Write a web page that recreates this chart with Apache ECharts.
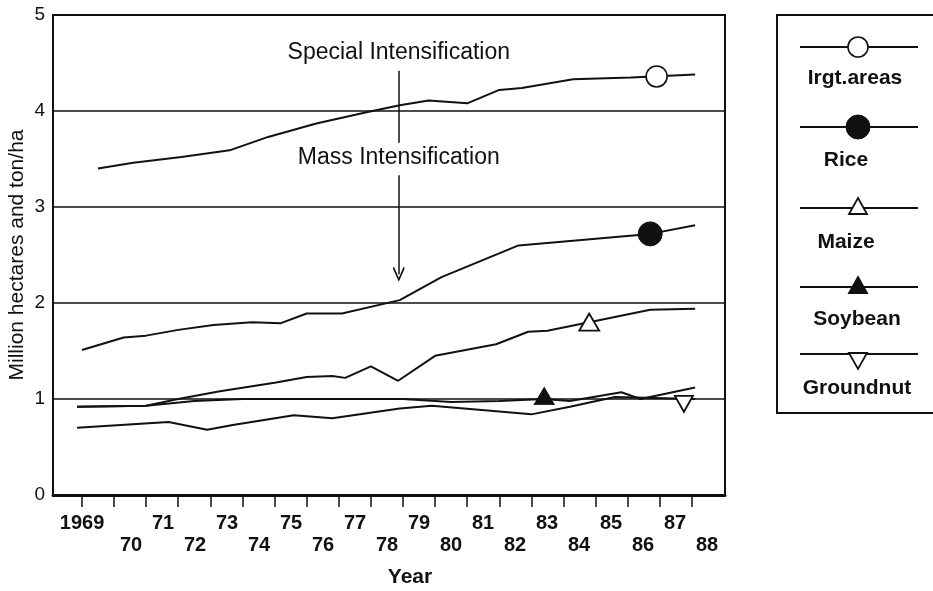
<!DOCTYPE html>
<html>
<head>
<meta charset="utf-8">
<script src="https://cdn.jsdelivr.net/npm/echarts@6/dist/echarts.min.js"></script>
<style>
  html, body { margin: 0; padding: 0; background: #fff; }
  #chart { width: 933px; height: 591px; }
</style>
</head>
<body>
<div id="chart"></div>
<script>
// tick years and their printed labels
const years = [1969, 1970, 1971, 1972, 1973, 1974, 1975, 1976, 1977, 1978,
  1979, 1980, 1981, 1982, 1983, 1984, 1985, 1986, 1987, 1988];
const tickLabels = ['1969', '70', '71', '72', '73', '74', '75', '76', '77', '78',
  '79', '80', '81', '82', '83', '84', '85', '86', '87', '88'];

const seriesNames = ['Irgt.areas', 'Rice', 'Maize', 'Soybean', 'Groundnut'];

// [year, value]
const irgtData = [[1969.5, 3.40], [1970.6, 3.46], [1972.1, 3.52], [1973.6, 3.59], [1974.8, 3.73],
  [1976.3, 3.87], [1977.9, 3.99], [1978.9, 4.06], [1979.8, 4.11], [1981.0, 4.08], [1982.0, 4.22],
  [1982.7, 4.24], [1984.3, 4.33], [1986.1, 4.35], [1988.1, 4.38]];
const riceData = [[1969.0, 1.51], [1970.3, 1.64], [1971.0, 1.66], [1972.0, 1.72], [1973.1, 1.77],
  [1974.3, 1.80], [1975.2, 1.79], [1976.0, 1.89], [1977.1, 1.89], [1978.9, 2.03], [1980.2, 2.27],
  [1982.6, 2.60], [1986.7, 2.72], [1988.1, 2.81]];
const maizeData = [[1968.85, 0.92], [1971.0, 0.93], [1972.0, 1.00], [1973.3, 1.08], [1975.0, 1.17],
  [1976.0, 1.23], [1976.8, 1.24], [1977.2, 1.22], [1978.0, 1.34], [1978.85, 1.19], [1980.0, 1.45],
  [1981.9, 1.57], [1982.9, 1.70], [1983.5, 1.71], [1984.8, 1.80], [1986.7, 1.93], [1988.1, 1.94]];
const soyData = [[1968.85, 0.92], [1971.0, 0.93], [1972.5, 0.98], [1974.0, 1.00], [1979.0, 1.00],
  [1980.5, 0.97], [1982.0, 0.98], [1983.4, 1.00], [1984.2, 0.98], [1985.8, 1.07], [1986.4, 1.00],
  [1988.1, 1.12]];
const gnutData = [[1968.85, 0.70], [1971.7, 0.76], [1972.9, 0.68], [1973.7, 0.73], [1975.6, 0.83],
  [1976.8, 0.80], [1978.9, 0.90], [1979.9, 0.93], [1983.0, 0.84], [1984.2, 0.92], [1985.6, 1.02],
  [1988.1, 1.00]];

// where each series carries its marker
const markerPoints = [[1986.9, 4.36], [1986.7, 2.72], [1984.8, 1.80], [1983.4, 1.03], [1987.75, 0.95]];

// arrow annotation: [year, from, to]
const specialArrow = [1978.87, 4.42, 3.67];
const massArrow = [1978.87, 3.33, 2.30];
const specialText = [1978.87, 4.61];
const massText = [1978.87, 3.51];

const FONT = 'Liberation Sans, Arial, Helvetica, sans-serif';
const INK = '#111';

const markerStyles = [
  { symbol: 'circle', symbolSize: 21, itemStyle: { color: '#fff', borderColor: INK, borderWidth: 1.6 } },
  { symbol: 'circle', symbolSize: 24, itemStyle: { color: INK, borderColor: INK, borderWidth: 1 } },
  { symbol: 'triangle', symbolSize: [20, 17], itemStyle: { color: '#fff', borderColor: INK, borderWidth: 1.8 } },
  { symbol: 'triangle', symbolSize: [20, 17], itemStyle: { color: INK, borderColor: INK, borderWidth: 1 } },
  { symbol: 'triangle', symbolSize: [18, 16], symbolRotate: 180, itemStyle: { color: '#fff', borderColor: INK, borderWidth: 1.8 } }
];

const allData = [irgtData, riceData, maizeData, soyData, gnutData];

const chevron = 'path://M5,0 L10,9 L9,10 L5,2.6 L1,10 L0,9 Z';

const series = allData.map((d, i) => {
  const s = {
    name: seriesNames[i],
    type: 'line',
    data: d,
    symbol: 'none',
    lineStyle: { color: INK, width: 2 },
    z: 3,
    markPoint: {
      silent: true,
      label: { show: false },
      data: [Object.assign({ coord: markerPoints[i] }, markerStyles[i])]
    }
  };
  if (i === 0) {
    const textLabel = (t) => ({
      show: true, position: 'inside', formatter: t,
      color: INK, fontFamily: FONT, fontSize: 23
    });
    s.markPoint.data.push(
      { coord: specialText, symbol: 'rect', symbolSize: 1, itemStyle: { color: 'rgba(0,0,0,0)' }, label: textLabel('Special Intensification') },
      { coord: massText, symbol: 'rect', symbolSize: 1, itemStyle: { color: 'rgba(0,0,0,0)' }, label: textLabel('Mass Intensification') }
    );
    s.markLine = {
      silent: true,
      label: { show: false },
      lineStyle: { color: INK, width: 1.5, type: 'solid' },
      data: [
        [{ coord: [specialArrow[0], specialArrow[1]], symbol: 'none' },
         { coord: [specialArrow[0], specialArrow[2]], symbol: 'none' }],
        [{ coord: [massArrow[0], massArrow[1]], symbol: 'none' },
         { coord: [massArrow[0], massArrow[2]], symbol: chevron, symbolSize: [12, 15] }]
      ]
    };
  }
  return s;
});

// legend drawn by hand: line + marker above the name
const legendLineY = [47, 127, 208, 287, 354];
const legendTextY = [78, 160, 242, 319, 388];
const legendTextX = [855, 846, 846, 857, 857];
const legendItems = [];
legendItems.push({
  type: 'rect', shape: { x: 777, y: 15, width: 175, height: 398 },
  style: { fill: 'none', stroke: INK, lineWidth: 2 }
});
seriesNames.forEach((name, i) => {
  const y = legendLineY[i];
  const cx = 858;
  legendItems.push({ type: 'line', shape: { x1: 800, y1: y, x2: 918, y2: y }, style: { stroke: INK, lineWidth: 2 } });
  if (i === 0) {
    legendItems.push({ type: 'circle', shape: { cx, cy: y, r: 10 }, style: { fill: '#fff', stroke: INK, lineWidth: 1.6 } });
  } else if (i === 1) {
    legendItems.push({ type: 'circle', shape: { cx, cy: y, r: 12 }, style: { fill: INK, stroke: INK } });
  } else if (i === 2 || i === 3) {
    legendItems.push({ type: 'polygon', shape: { points: [[cx, y - 10], [cx + 9, y + 6], [cx - 9, y + 6]] },
      style: { fill: i === 2 ? '#fff' : INK, stroke: INK, lineWidth: 1.8 } });
  } else {
    legendItems.push({ type: 'polygon', shape: { points: [[cx - 9, y - 1], [cx + 9, y - 1], [cx, y + 15]] },
      style: { fill: '#fff', stroke: INK, lineWidth: 1.8 } });
  }
  legendItems.push({
    type: 'text', x: legendTextX[i], y: legendTextY[i],
    style: { text: name, fill: INK, font: 'bold 21px ' + FONT, textAlign: 'center', textVerticalAlign: 'middle' }
  });
});

// the printed labels sit on two staggered rows, a little right of their ticks;
// the wide "1969" is pulled back left under its tick
const labelStyle = { color: INK, fontFamily: FONT, fontSize: 20, fontWeight: 'bold' };
const labelAxis = (which, margin) => ({
  type: 'value', min: 1967.56, max: 1988.56, position: 'bottom',
  axisLine: { show: false }, axisTick: { show: false }, splitLine: { show: false },
  axisLabel: Object.assign({
    customValues: years.filter((y, i) => i % 2 === which),
    showMinLabel: true, showMaxLabel: true, hideOverlap: false,
    margin,
    formatter: (v) => {
      const t = tickLabels[years.indexOf(Math.round(v))] || '';
      return Math.round(v) === years[0] ? '{first|' + t + '}' : t;
    },
    rich: { first: Object.assign({ padding: [0, 34, 0, 0] }, labelStyle) }
  }, labelStyle)
});

const topRow = labelAxis(0, 18);
topRow.name = 'Year';
topRow.nameLocation = 'middle';
topRow.nameGap = 72;
topRow.nameTextStyle = { color: INK, fontFamily: FONT, fontSize: 21, fontWeight: 'bold', padding: [0, 0, 0, 42] };

const option = {
  backgroundColor: '#fff',
  animation: false,
  grid: {
    left: 53, right: 208, top: 15, bottom: 96,
    outerBoundsMode: 'none',
    show: true, borderColor: INK, borderWidth: 2
  },
  xAxis: [
    {
      type: 'value', min: 1968.1, max: 1989.03,
      axisLine: { show: true, lineStyle: { color: INK, width: 3 } },
      axisTick: { show: true, customValues: years, length: 12, lineStyle: { color: INK, width: 1.5 } },
      axisLabel: { show: false },
      splitLine: { show: false }
    },
    topRow,
    labelAxis(1, 40)
  ],
  yAxis: {
    type: 'value', min: 0, max: 5, interval: 1,
    axisLine: { show: true, lineStyle: { color: INK, width: 2 } },
    axisTick: { show: false },
    axisLabel: { color: INK, fontFamily: FONT, fontSize: 19, margin: 8 },
    splitLine: { show: true, lineStyle: { color: INK, width: 1.5 } },
    name: 'Million hectares and ton/ha', nameLocation: 'middle', nameGap: 25,
    nameMoveOverlap: false,
    nameTextStyle: { color: INK, fontFamily: FONT, fontSize: 21 }
  },
  series,
  graphic: legendItems
};

const chart = echarts.init(document.getElementById('chart'));
chart.setOption(option);
</script>
</body>
</html>
